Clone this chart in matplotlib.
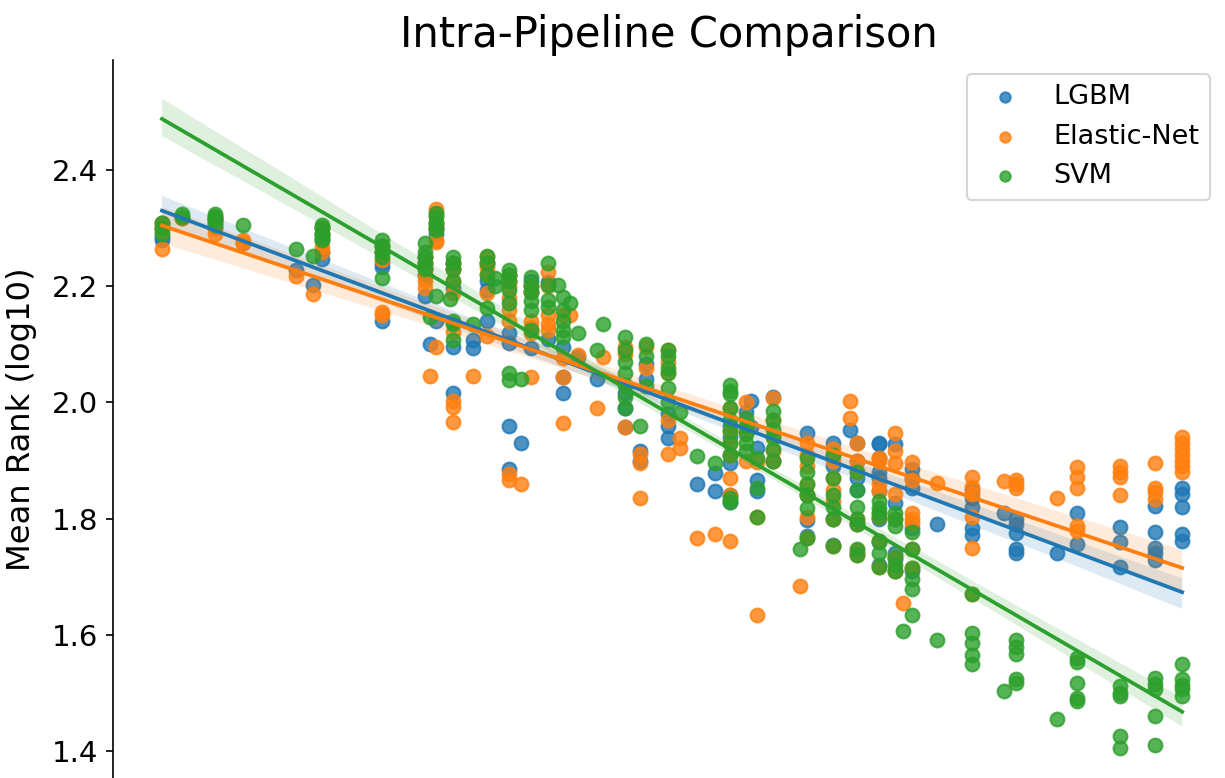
import numpy as np
import matplotlib
matplotlib.use('Agg')
import matplotlib.pyplot as plt
import seaborn as sns

# -------------------- Data --------------------
# x positions of the point columns (arbitrary units, the x-axis is not shown)
X_POS = [0.00, 0.20, 0.52, 0.79, 1.31, 1.48, 1.57, 2.16, 2.58, 2.63,
         2.69, 2.82, 2.85, 3.05, 3.19, 3.26, 3.40, 3.52, 3.62, 3.78,
         3.88, 3.93, 4.00, 4.08, 4.26, 4.32, 4.54, 4.69, 4.74, 4.96,
         5.08, 5.24, 5.42, 5.57, 5.72, 5.77, 5.83, 5.99, 6.25, 6.32,
         6.58, 6.74, 6.81, 7.03, 7.19, 7.26, 7.35, 7.60, 7.94, 8.25,
         8.37, 8.77, 8.97, 9.39, 9.73, 10.00]

# per-column values; some LGBM / Elastic-Net points sit underneath the SVM clusters
LGBM = [[2.31, 2.30, 2.285, 2.28], [2.318], [2.32, 2.315, 2.31, 2.30], [2.275], [2.228], [2.203],
        [2.30, 2.29, 2.28, 2.26, 2.248], [2.27, 2.26, 2.24, 2.233, 2.14],
        [2.25, 2.24, 2.231, 2.22, 2.184], [2.10],
        [2.31, 2.30, 2.29, 2.141], [], [2.24, 2.23, 2.198, 2.095, 2.017], [2.107, 2.093],
        [2.24, 2.21, 2.193, 2.14],
        [], [2.22, 2.21, 2.119, 2.103, 1.96, 1.886], [1.931], [2.21, 2.20, 2.19, 2.093], [2.207, 2.11],
        [], [2.095, 2.043, 2.017], [], [2.078], [2.04], [],
        [2.016, 1.99, 1.957], [1.917, 1.90], [2.067, 2.041], [1.98, 1.96, 1.938],
        [], [1.86], [1.879, 1.848], [1.96, 1.94, 1.91, 1.895, 1.84, 1.828], [1.983], [2.003, 1.957],
        [1.921, 1.866, 1.848], [2.009, 1.90], [], [1.948, 1.84, 1.797, 1.77],
        [1.93, 1.91, 1.89, 1.80, 1.755], [1.952], [1.93, 1.90, 1.87, 1.85, 1.79, 1.74],
        [1.931, 1.929, 1.905, 1.88, 1.87, 1.848, 1.80, 1.76, 1.72],
        [1.929, 1.826, 1.74, 1.73, 1.71], [], [1.886, 1.87, 1.852, 1.783, 1.71], [1.791],
        [1.85, 1.835, 1.82, 1.783, 1.771], [1.81],
        [1.80, 1.79, 1.775, 1.748, 1.74], [1.74], [1.809, 1.757],
        [1.785, 1.759, 1.716], [1.822, 1.776, 1.75, 1.74, 1.728],
        [1.853, 1.843, 1.82, 1.774, 1.762]]

ENET = [[2.31, 2.30, 2.295, 2.265], [2.318], [2.32, 2.315, 2.30, 2.29], [2.28, 2.275], [2.218], [2.186],
        [2.30, 2.29, 2.267, 2.26], [2.27, 2.26, 2.245, 2.155, 2.15], [2.25, 2.24, 2.23, 2.219, 2.21, 2.198],
        [2.046],
        [2.334, 2.325, 2.31, 2.30, 2.28, 2.276, 2.095], [], [2.24, 2.23, 2.21, 2.188, 2.121, 2.003, 1.992, 1.967],
        [2.046], [2.25, 2.24, 2.233, 2.222, 2.188, 2.115],
        [], [2.22, 2.21, 2.20, 2.18, 2.16, 2.14, 1.877, 1.866], [1.86], [2.20, 2.19, 2.141, 2.13, 2.119, 2.043],
        [2.224, 2.20, 2.15, 2.135, 2.124],
        [], [2.15, 2.076, 2.043, 1.964], [2.15], [2.081], [1.99], [2.078],
        [2.095, 2.084, 1.957], [1.912, 1.895, 1.836], [2.095, 2.06], [2.09, 2.07, 2.05, 1.97, 1.912],
        [1.938, 1.921], [1.767], [1.774], [1.99, 1.95, 1.93, 1.91, 1.869, 1.84, 1.762], [2.0, 1.95, 1.9], [],
        [1.897, 1.802, 1.633], [2.007, 1.97, 1.94, 1.917, 1.90], [1.684], [1.93, 1.91, 1.89, 1.86, 1.84, 1.802, 1.767],
        [1.92, 1.90, 1.87, 1.85, 1.83, 1.80, 1.753], [2.003, 1.974], [1.931, 1.90, 1.88, 1.80, 1.79, 1.745, 1.738],
        [1.905, 1.90, 1.86, 1.848, 1.81, 1.802, 1.762, 1.716],
        [1.948, 1.917, 1.895, 1.843, 1.80, 1.733, 1.71], [1.655],
        [1.897, 1.866, 1.81, 1.80, 1.793, 1.748, 1.714], [1.862],
        [1.871, 1.855, 1.843, 1.802, 1.75, 1.67], [1.864],
        [1.866, 1.86, 1.853], [1.836], [1.888, 1.871, 1.852, 1.788, 1.779],
        [1.891, 1.88, 1.871, 1.84], [1.895, 1.853, 1.845, 1.834],
        [1.94, 1.93, 1.92, 1.91, 1.90, 1.89, 1.88]]

SVM = [[2.31, 2.30, 2.29], [2.325, 2.32], [2.325, 2.32, 2.315, 2.305], [2.305], [2.265], [2.253],
       [2.305, 2.30, 2.29, 2.285, 2.28], [2.28, 2.27, 2.26, 2.25, 2.215],
       [2.274, 2.259, 2.25, 2.24, 2.23], [2.147],
       [2.326, 2.32, 2.31, 2.30, 2.297, 2.184], [2.178], [2.25, 2.24, 2.23, 2.21, 2.14, 2.136, 2.107],
       [2.136], [2.253, 2.241, 2.219, 2.162],
       [2.215, 2.20], [2.228, 2.22, 2.21, 2.193, 2.171, 2.05, 2.038], [2.04],
       [2.216, 2.20, 2.19, 2.175, 2.159, 2.124], [2.241, 2.202, 2.176, 2.164],
       [2.202], [2.181, 2.16, 2.14, 2.125, 2.112], [2.171], [2.119], [2.09], [2.136],
       [2.112, 2.09, 2.07, 2.05, 2.03, 2.009, 1.99], [1.96], [2.10, 2.08, 2.029],
       [2.09, 2.08, 2.06, 2.05, 2.025, 2.0],
       [1.983], [1.907], [1.895], [2.03, 2.02, 2.015, 1.99, 1.97, 1.95, 1.93, 1.91, 1.836, 1.828],
       [1.974, 1.96, 1.945, 1.93, 1.917], [],
       [1.905, 1.853, 1.802], [1.986, 1.97, 1.955, 1.94, 1.92, 1.90], [1.748],
       [1.905, 1.88, 1.86, 1.84, 1.819, 1.767],
       [1.91, 1.87, 1.84, 1.82, 1.80, 1.753], [], [1.88, 1.85, 1.82, 1.80, 1.79, 1.748, 1.738],
       [1.83, 1.819, 1.81, 1.802, 1.762, 1.74, 1.716],
       [1.81, 1.80, 1.788, 1.733, 1.72, 1.71], [1.607], [1.776, 1.748, 1.714, 1.695, 1.679, 1.633],
       [1.59], [1.67, 1.602, 1.585, 1.565, 1.55], [1.503],
       [1.59, 1.578, 1.567, 1.524, 1.516], [1.455], [1.559, 1.552, 1.516, 1.491, 1.486],
       [1.512, 1.50, 1.495, 1.426, 1.405], [1.526, 1.515, 1.507, 1.46, 1.409],
       [1.55, 1.524, 1.514, 1.507, 1.495]]

SERIES = [('LGBM', LGBM), ('Elastic-Net', ENET), ('SVM', SVM)]
COLORS = ['#1f77b4', '#ff7f0e', '#2ca02c']


def expand(columns):
    """Turn the per-column y lists into flat x / y arrays."""
    xs, ys = [], []
    for x, col in zip(X_POS, columns):
        xs.extend([x] * len(col))
        ys.extend(col)
    return np.array(xs), np.array(ys)


fig = plt.figure(figsize=(12.25 / 1.5, 7.78 / 1.5), dpi=150)
ax = fig.add_axes([113 / 1225, 0.0, (1224 - 113) / 1225, 1 - 60 / 778])

for (name, cols), color in zip(SERIES, COLORS):
    x, y = expand(cols)
    sns.regplot(x=x, y=y, ax=ax, color=color, label=name, seed=0,
                scatter_kws={'s': 44, 'alpha': 0.8},
                line_kws={'lw': 1.8})

ax.set_xlim(-0.48, 10.41)
ax.set_ylim(1.353, 2.59)
ax.set_yticks([1.4, 1.6, 1.8, 2.0, 2.2, 2.4])
ax.set_xticks([])
ax.tick_params(axis='y', labelsize=14)
for side in ['top', 'right', 'bottom']:
    ax.spines[side].set_visible(False)
ax.set_xlabel('')
ax.set_ylabel('Mean Rank (log10)', fontsize=15.5, labelpad=7)
ax.set_title('Intra-Pipeline Comparison', fontsize=20)
ax.legend(loc='upper right', fontsize=13, markerscale=0.75)

fig.savefig('out.png', dpi=150)
